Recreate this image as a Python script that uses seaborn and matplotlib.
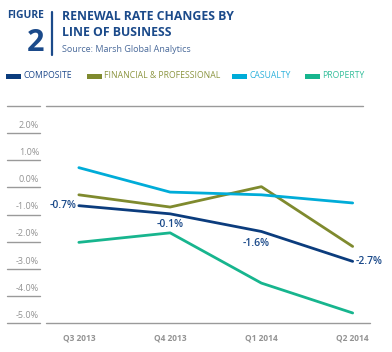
import numpy as np
import pandas as pd
import matplotlib
matplotlib.use("Agg")
import matplotlib.pyplot as plt
import matplotlib.transforms as mtransforms
import seaborn as sns

# chart data
quarters = ["Q3 2013", "Q4 2013", "Q1 2014", "Q2 2014"]
series_names = ["COMPOSITE", "FINANCIAL & PROFESSIONAL", "CASUALTY", "PROPERTY"]
composite = [-1.0, -1.3, -1.95, -3.05]
financial = [-0.6, -1.05, -0.3, -2.5]
casualty = [0.4, -0.5, -0.6, -0.9]
property_ = [-2.35, -2.0, -3.85, -4.95]
composite_labels = ["-0.7%", "-0.1%", "-1.6%", "-2.7%"]
ytick_values = [2, 1, 0, -1, -2, -3, -4, -5]
ytick_labels = ["2.0%", "1.0%", "0.0%", "-1.0%", "-2.0%", "-3.0%", "-4.0%", "-5.0%"]

colors = ["#0b3c7d", "#7f8a2e", "#00acd8", "#17b58e"]
text_colors = ["#1f4a8c", "#8c9540", "#2fb2dc", "#35bf9b"]
navy = "#1b4a8a"
grid_gray = "#9a9a9a"

df = pd.DataFrame({
    "quarter": np.tile(np.arange(len(quarters)), 4),
    "value": composite + financial + casualty + property_,
    "series": np.repeat(series_names, len(quarters)),
})

sns.set_style("white")
plt.rcParams["font.family"] = ["Open Sans", "DejaVu Sans"]

fig = plt.figure(figsize=(3.92, 3.52), dpi=100)
ax = fig.add_axes([46 / 392, 1 - 323.3 / 352, 324 / 392, 217.3 / 352])

sns.lineplot(data=df, x="quarter", y="value", hue="series", hue_order=series_names,
             palette=colors, linewidth=2.0, legend=False, ax=ax)

ax.set_xlim(-0.36, 3.19)
ax.set_ylim(-5.33, 2.67)
for s in ax.spines.values():
    s.set_visible(False)

# top and bottom rules
ax.axhline(2.67, xmin=0, xmax=(363 - 46) / 324, color=grid_gray, lw=1.0, clip_on=False)
ax.axhline(-5.33, xmin=0, xmax=1, color=grid_gray, lw=1.0, clip_on=False)

# short rules under each y label
trans = mtransforms.blended_transform_factory(ax.transAxes, ax.transData)
for k in [3] + ytick_values:
    ax.plot([-0.12, -0.019], [k - 0.33, k - 0.33], transform=trans,
            color=grid_gray, lw=1.0, clip_on=False)

ax.set_yticks(ytick_values)
ax.set_yticklabels(ytick_labels)
ax.set_xticks(range(len(quarters)))
ax.set_xticklabels(quarters, fontweight="bold")
ax.tick_params(axis="y", length=0, pad=5, labelsize=6.5, labelcolor="#939393")
ax.tick_params(axis="x", length=0, pad=7, labelsize=6, labelcolor="#939393")
ax.set_xlabel("")
ax.set_ylabel("")

# composite value labels
lab_kw = dict(color=navy, fontsize=7.5, fontweight="semibold")
ax.annotate(composite_labels[0], (0, composite[0]), xytext=(-2, 0), textcoords="offset points",
            ha="right", va="center", **lab_kw)
ax.annotate(composite_labels[1], (1, composite[1]), xytext=(0, -8), textcoords="offset points",
            ha="center", va="center", **lab_kw)
ax.annotate(composite_labels[2], (2, composite[2]), xytext=(-4, -9), textcoords="offset points",
            ha="center", va="center", **lab_kw)
ax.annotate(composite_labels[3], (3, composite[3]), xytext=(2, 0), textcoords="offset points",
            ha="left", va="center", **lab_kw)

# header
fig.text(7 / 392, 1 - 16 / 352, "FIGURE", color=navy, fontsize=7.5, fontweight="bold",
         ha="left", va="center")
fig.text(44 / 392, 1 - 43 / 352, "2", color=navy, fontsize=22, fontweight="bold",
         ha="right", va="center")
fig.add_artist(plt.Line2D([52 / 392, 52 / 392], [1 - 12 / 352, 1 - 55 / 352],
                          color=navy, lw=1.6))
fig.text(62 / 392, 1 - 16 / 352, "RENEWAL RATE CHANGES BY", color=navy, fontsize=8.8,
         fontweight="bold", ha="left", va="center")
fig.text(62 / 392, 1 - 32 / 352, "LINE OF BUSINESS", color=navy, fontsize=8.8,
         fontweight="bold", ha="left", va="center")
fig.text(62 / 392, 1 - 50 / 352, "Source: Marsh Global Analytics", color="#4a6a9a",
         fontsize=6.5, ha="left", va="center")

# legend
swatch_x = [6, 87, 232, 305]
for x0, name, c, tc in zip(swatch_x, series_names, colors, text_colors):
    fig.add_artist(plt.Rectangle((x0 / 392, 1 - 78.5 / 352), 15 / 392, 5 / 352,
                                 color=c, lw=0))
    fig.text((x0 + 17) / 392, 1 - 76 / 352, name, color=tc, fontsize=6.2,
             ha="left", va="center")

fig.savefig("out.png", dpi=100)
